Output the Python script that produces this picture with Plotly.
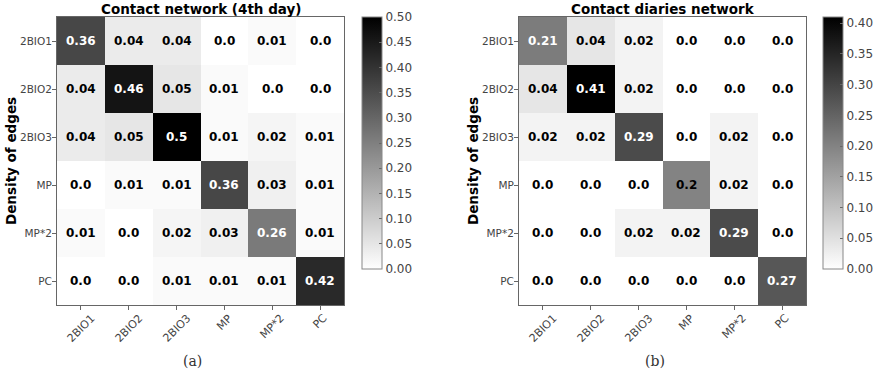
import plotly.graph_objects as go

groups = ["2BIO1", "2BIO2", "2BIO3", "MP", "MP*2", "PC"]

contact_4th_day = [
    [0.36, 0.04, 0.04, 0.0, 0.01, 0.0],
    [0.04, 0.46, 0.05, 0.01, 0.0, 0.0],
    [0.04, 0.05, 0.5, 0.01, 0.02, 0.01],
    [0.0, 0.01, 0.01, 0.36, 0.03, 0.01],
    [0.01, 0.0, 0.02, 0.03, 0.26, 0.01],
    [0.0, 0.0, 0.01, 0.01, 0.01, 0.42],
]

contact_diaries = [
    [0.21, 0.04, 0.02, 0.0, 0.0, 0.0],
    [0.04, 0.41, 0.02, 0.0, 0.0, 0.0],
    [0.02, 0.02, 0.29, 0.0, 0.02, 0.0],
    [0.0, 0.0, 0.0, 0.2, 0.02, 0.0],
    [0.0, 0.0, 0.02, 0.02, 0.29, 0.0],
    [0.0, 0.0, 0.0, 0.0, 0.0, 0.27],
]

titles = ["Contact network (4th day)", "Contact diaries network"]
captions = ["(a)", "(b)"]
vmax = [0.5, 0.41]
cb_ticks = [[0, 0.05, 0.1, 0.15, 0.2, 0.25, 0.3, 0.35, 0.4, 0.45, 0.5],
            [0, 0.05, 0.1, 0.15, 0.2, 0.25, 0.3, 0.35, 0.4]]

W, H = 877, 374
FONT = "DejaVu Sans"
greys = [[0, "rgb(255,255,255)"], [1, "rgb(0,0,0)"]]

# pixel layout
x_dom = [(57, 344), (519, 806)]
y_top, y_bot = 17, 305
cb_x = [362, 823]
cb_bottom = 269

def px(x):
    return x / W

def py(y):
    return 1 - y / H

fig = go.Figure()
annotations = []
data = [contact_4th_day, contact_diaries]

for i, z in enumerate(data):
    xa = "x" if i == 0 else "x2"
    ya = "y" if i == 0 else "y2"
    ca = "coloraxis" if i == 0 else "coloraxis2"
    fig.add_trace(go.Heatmap(
        z=z, x=groups, y=groups, coloraxis=ca, xaxis=xa, yaxis=ya,
        hoverinfo="skip", xgap=0, ygap=0,
    ))
    for r, row in enumerate(z):
        for c, v in enumerate(row):
            annotations.append(dict(
                x=groups[c], y=groups[r], xref=xa, yref=ya,
                text="<b>%s</b>" % str(v), showarrow=False,
                font=dict(family=FONT, size=12,
                          color="white" if v > 0.5 * vmax[i] else "black"),
            ))
    # rotated x tick labels, centred on the tick like matplotlib
    for g in groups:
        annotations.append(dict(
            x=g, xref=xa, y=py(309), yref="paper", text=g, textangle=-45,
            showarrow=False, xanchor="center", yanchor="top",
            font=dict(family=FONT, size=11, color="#444")))
    cx = (x_dom[i][0] + x_dom[i][1]) / 2
    annotations.append(dict(
        x=px(cx), y=py(9), xref="paper", yref="paper", text="<b>%s</b>" % titles[i],
        showarrow=False, font=dict(family=FONT, size=13.5, color="black"),
        xanchor="center", yanchor="middle"))
    annotations.append(dict(
        x=px(x_dom[i][0] - 46), y=py((y_top + y_bot) / 2), xref="paper", yref="paper",
        text="<b>Density of edges</b>", textangle=-90, showarrow=False,
        font=dict(family=FONT, size=13.5, color="black"),
        xanchor="center", yanchor="middle"))
    annotations.append(dict(
        x=px(cx - 8), y=py(361), xref="paper", yref="paper", text=captions[i],
        showarrow=False, font=dict(family="DejaVu Serif", size=14, color="#333"),
        xanchor="center", yanchor="middle"))

axis_common = dict(
    showline=True, linecolor="#666", linewidth=1, mirror=True,
    ticks="outside", ticklen=4, tickcolor="#666",
    showgrid=False, zeroline=False, fixedrange=True,
)
ytick_font = dict(family=FONT, size=10.5, color="#444")

def cbar(i):
    return dict(
        x=px(cb_x[i]), xanchor="left", xpad=0,
        y=py(y_top), yanchor="top", ypad=0,
        len=(cb_bottom - y_top) / H, lenmode="fraction",
        thickness=20, thicknessmode="pixels",
        outlinecolor="#888", outlinewidth=1,
        tickvals=cb_ticks[i], tickformat=".2f",
        ticks="inside", ticklen=3, tickcolor="#666",
        tickfont=dict(family=FONT, size=12, color="#444"),
    )

fig.update_layout(
    width=W, height=H, margin=dict(l=0, r=0, t=0, b=0),
    paper_bgcolor="white", plot_bgcolor="white",
    xaxis=dict(domain=[px(x_dom[0][0]), px(x_dom[0][1])], anchor="y",
               showticklabels=False, **axis_common),
    yaxis=dict(domain=[py(y_bot), py(y_top)], anchor="x", autorange="reversed",
               tickfont=ytick_font, ticklabelstandoff=-2, **axis_common),
    xaxis2=dict(domain=[px(x_dom[1][0]), px(x_dom[1][1])], anchor="y2",
                showticklabels=False, **axis_common),
    yaxis2=dict(domain=[py(y_bot), py(y_top)], anchor="x2", autorange="reversed",
                tickfont=ytick_font, ticklabelstandoff=-2, **axis_common),
    coloraxis=dict(colorscale=greys, cmin=0, cmax=vmax[0], colorbar=cbar(0)),
    coloraxis2=dict(colorscale=greys, cmin=0, cmax=vmax[1], colorbar=cbar(1)),
    annotations=annotations,
    showlegend=False,
)

fig.write_html("out.html")
